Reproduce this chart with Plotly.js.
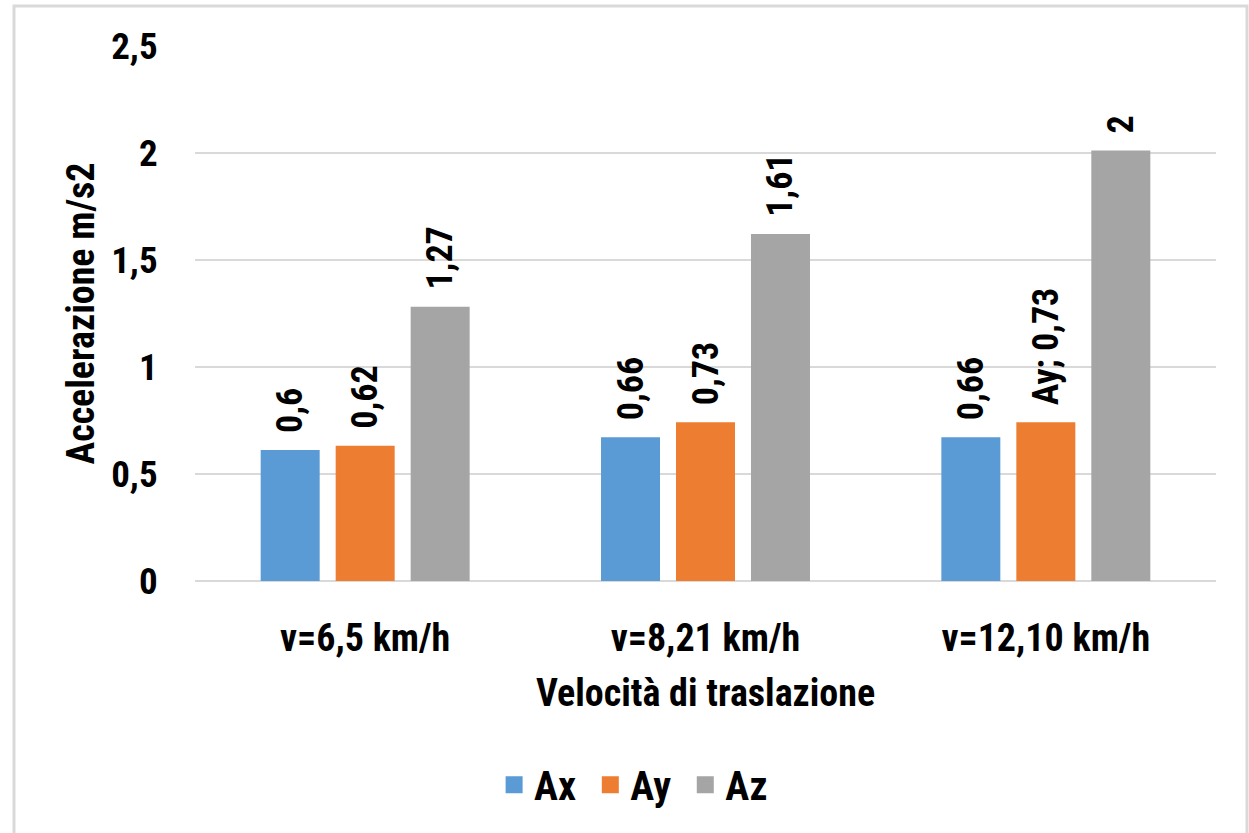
<!DOCTYPE html>
<html><head><meta charset="utf-8">
<script src="https://cdn.plot.ly/plotly-3.0.1.min.js"></script>
<style>body{margin:0;background:#fff}#chart{width:1249px;height:833px}</style>
</head><body><div id="chart"></div>
<script>
const categories = ["v=6,5 km/h", "v=8,21 km/h", "v=12,10 km/h"];
const seriesNames = ["Ax", "Ay", "Az"];
const ax = [0.6, 0.66, 0.66];
const ay = [0.62, 0.73, 0.73];
const az = [1.27, 1.61, 2];
const ayLabelPrefix = ["", "", "Ay; "];
const yTicks = [0, 0.5, 1, 1.5, 2, 2.5];
const yTickText = ["0", "0,5", "1", "1,5", "2", "2,5"];

const FONT = '"Roboto Condensed", "Liberation Sans", Arial, sans-serif';

function tr(name, vals, color, prefix) {
  return {
    type: 'bar', name: name + '\u00a0', x: categories, y: vals,
    marker: {color: color, line: {color: color, width: 5}},
    text: vals.map((v, i) => '\u00a0\u00a0' + (prefix ? prefix[i] : '') + String(v).replace('.', ',')),
    textposition: 'outside', textangle: -90, cliponaxis: false, constraintext: 'none',
    textfont: {family: FONT, size: 36, color: '#000', weight: 'bold'},
    hoverinfo: 'none'
  };
}

const data = [
  tr(seriesNames[0], ax, '#5B9BD5'),
  tr(seriesNames[1], ay, '#ED7D31', ayLabelPrefix),
  tr(seriesNames[2], az, '#A5A5A5')
];

const layout = {
  width: 1249, height: 833,
  margin: {l: 195, r: 33, t: 46, b: 252},
  paper_bgcolor: '#fff', plot_bgcolor: '#fff',
  font: {family: FONT, color: '#000', size: 36, weight: 'bold'},
  barmode: 'group', bargap: 0.339, bargroupgap: 0.28,
  showlegend: true,
  legend: {orientation: 'h', x: 0.434, xanchor: 'center', y: -0.381, yanchor: 'middle',
           font: {family: FONT, size: 40, weight: 'bold'}, itemwidth: 30},
  xaxis: {
    tickfont: {family: FONT, size: 38, weight: 'bold'},
    ticks: 'outside', ticklen: 23, tickcolor: 'rgba(0,0,0,0)',
    showline: false, zeroline: false,
    title: {text: 'Velocità di traslazione', font: {family: FONT, size: 38, weight: 'bold'}, standoff: 20}
  },
  yaxis: {
    range: [0, 2.5], tickvals: yTicks, ticktext: yTickText,
    tickfont: {family: FONT, size: 37, weight: 'bold'},
    ticks: 'outside', ticklen: 29, tickcolor: 'rgba(0,0,0,0)',
    gridcolor: '#d9d9d9', gridwidth: 1.5, zeroline: true, zerolinecolor: '#d9d9d9', zerolinewidth: 1.5,
    showline: false,
    title: {text: 'Accelerazione m/s2', font: {family: FONT, size: 38, weight: 'bold'}, standoff: 4}
  },
  shapes: [{
    type: 'rect', xref: 'paper', yref: 'paper',
    x0: (14 - 195) / 1021, x1: (1247 - 195) / 1021,
    y0: -0.6, y1: (581 - 6) / 535,
    line: {color: '#d9d9d9', width: 3}, fillcolor: 'rgba(0,0,0,0)', layer: 'below'
  }]
};

Plotly.newPlot('chart', data, layout, {displayModeBar: false, staticPlot: true});
</script></body></html>
